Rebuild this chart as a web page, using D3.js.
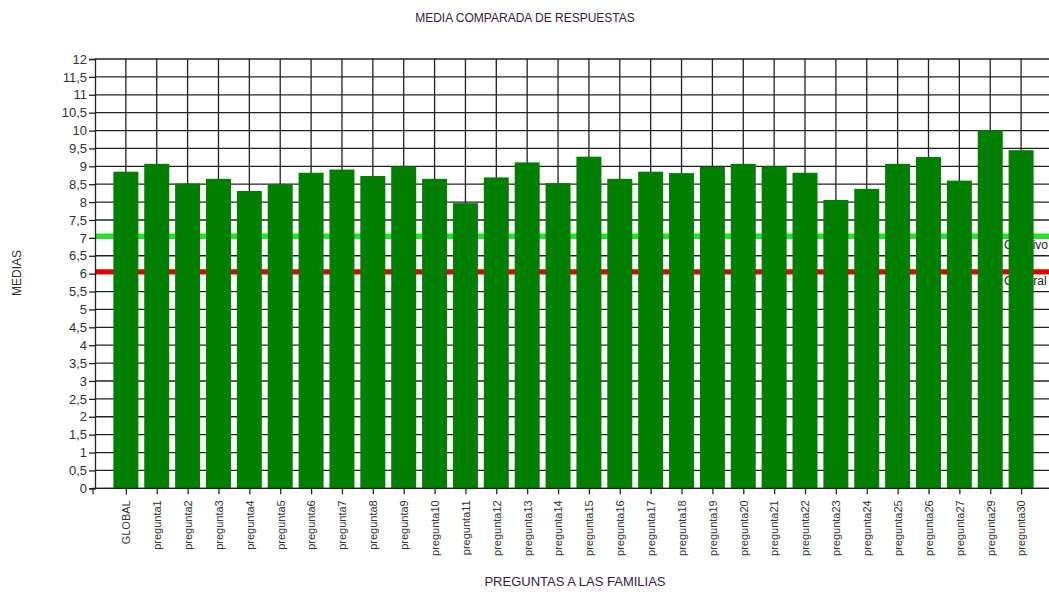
<!DOCTYPE html>
<html>
<head>
<meta charset="utf-8">
<script src="https://cdn.jsdelivr.net/npm/d3@7"></script>
<style>
  body { margin: 0; background: #fff; }
  svg { display: block; }
</style>
</head>
<body>
<svg id="chart" width="1049" height="592"></svg>
<script>
// Datos
var categorias = ["GLOBAL", "pregunta1", "pregunta2", "pregunta3", "pregunta4", "pregunta5",
  "pregunta6", "pregunta7", "pregunta8", "pregunta9", "pregunta10", "pregunta11", "pregunta12",
  "pregunta13", "pregunta14", "pregunta15", "pregunta16", "pregunta17", "pregunta18", "pregunta19",
  "pregunta20", "pregunta21", "pregunta22", "pregunta23", "pregunta24", "pregunta25", "pregunta26",
  "pregunta27", "pregunta29", "pregunta30"];
var medias = [8.85, 9.07, 8.52, 8.65, 8.31, 8.5, 8.82, 8.91, 8.73, 9.0, 8.65, 7.97, 8.69,
  9.11, 8.53, 9.27, 8.65, 8.85, 8.81, 8.99, 9.07, 9.0, 8.82, 8.06, 8.37, 9.07, 9.26,
  8.6, 10.01, 9.45];
var referencias = [
  { nombre: "Objetivo", valor: 7.05, color: "#22e622" },
  { nombre: "General", valor: 6.05, color: "#e60000" }
];
var yTicks = d3.range(0, 12.01, 0.5);

// Escalas
//---------
var plotLeft = 95, plotBottom = 488.3, plotTop = 59;
var svg = d3.select("#chart");

var x = d3.scalePoint()
  .domain(categorias)
  .range([plotLeft, plotLeft + 31 * 30.87])
  .padding(1);

var y = d3.scaleLinear()
  .domain([0, 12])
  .range([plotBottom, plotTop]);

var fmt = function(d) { return String(d).replace(".", ","); };
var font = "'Liberation Sans Narrow', 'Liberation Sans', Arial, sans-serif";

// Rejilla
//---------
svg.append("g")
  .selectAll("line")
  .data(yTicks)
  .join("line")
  .attr("x1", plotLeft).attr("x2", 1049)
  .attr("y1", d => y(d)).attr("y2", d => y(d))
  .attr("stroke", "#222").attr("stroke-width", 1.3);

svg.append("g")
  .selectAll("line")
  .data(categorias)
  .join("line")
  .attr("x1", d => x(d)).attr("x2", d => x(d))
  .attr("y1", plotTop).attr("y2", plotBottom)
  .attr("stroke", "#222").attr("stroke-width", 1.3);

// Lineas de referencia (detras de las barras)
//---------
var refs = svg.append("g");
refs.selectAll("line")
  .data(referencias)
  .join("line")
  .attr("x1", plotLeft).attr("x2", 1049)
  .attr("y1", d => y(d.valor)).attr("y2", d => y(d.valor))
  .attr("stroke", d => d.color).attr("stroke-width", 5);
refs.selectAll("text")
  .data(referencias)
  .join("text")
  .attr("x", 1004)
  .attr("y", d => y(d.valor) + 13)
  .attr("font-family", font)
  .attr("font-size", 12)
  .attr("fill", "#222")
  .text(d => d.nombre);

// Barras
//---------
var barW = 25;
svg.append("g")
  .selectAll("rect")
  .data(medias)
  .join("rect")
  .attr("x", (d, i) => x(categorias[i]) - barW / 2)
  .attr("width", barW)
  .attr("y", d => y(d))
  .attr("height", d => plotBottom - y(d))
  .attr("fill", "#007f00");

// Ejes
//---------
var yAxis = svg.append("g")
  .attr("transform", "translate(" + plotLeft + ",0)")
  .call(d3.axisLeft(y).tickValues(yTicks).tickFormat(fmt).tickSize(6).tickPadding(2));
yAxis.select(".domain").attr("stroke", "#222").attr("stroke-width", 1.3);
yAxis.selectAll(".tick line").attr("stroke", "#222").attr("stroke-width", 1.3);
yAxis.selectAll("text")
  .attr("font-family", font)
  .attr("font-size", 13)
  .attr("fill", "#333");

var xAxis = svg.append("g")
  .attr("transform", "translate(0," + plotBottom + ")")
  .call(d3.axisBottom(x).tickSize(6).tickSizeOuter(0));
xAxis.select(".domain").attr("stroke", "#222").attr("stroke-width", 1.3)
  .attr("d", "M" + (plotLeft - 3) + ",0H1049");
xAxis.selectAll(".tick line").attr("stroke", "#222").attr("stroke-width", 1.3);
xAxis.selectAll("text")
  .attr("font-family", font)
  .attr("font-size", 11)
  .attr("fill", "#333")
  .attr("transform", "rotate(-90)")
  .attr("text-anchor", "end")
  .attr("x", -12)
  .attr("y", 0)
  .attr("dy", "0.35em");

// origen del eje x
svg.append("line")
  .attr("x1", plotLeft - 2).attr("x2", plotLeft - 2)
  .attr("y1", plotBottom).attr("y2", plotBottom + 6)
  .attr("stroke", "#222").attr("stroke-width", 1.3);

// Titulos
//---------
svg.append("text")
  .attr("x", 525).attr("y", 22)
  .attr("text-anchor", "middle")
  .attr("font-family", font)
  .attr("font-size", 12)
  .attr("fill", "#3a2040")
  .text("MEDIA COMPARADA DE RESPUESTAS");

svg.append("text")
  .attr("transform", "translate(21,273) rotate(-90)")
  .attr("text-anchor", "middle")
  .attr("font-family", font)
  .attr("font-size", 12)
  .attr("fill", "#333")
  .text("MEDIAS");

svg.append("text")
  .attr("x", 575).attr("y", 586)
  .attr("text-anchor", "middle")
  .attr("font-family", font)
  .attr("font-size", 13)
  .attr("fill", "#3a2040")
  .text("PREGUNTAS A LAS FAMILIAS");
</script>
</body>
</html>
